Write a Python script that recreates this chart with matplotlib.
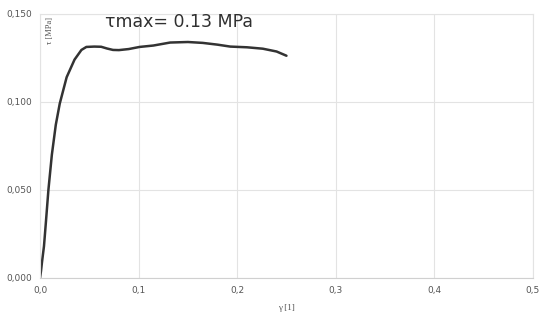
import matplotlib.pyplot as plt
from matplotlib.ticker import FuncFormatter

# shear strain / shear stress
gamma = [0.0, 0.001, 0.002, 0.004, 0.006, 0.0085, 0.012, 0.016, 0.020, 0.027,
         0.035, 0.042, 0.047, 0.055, 0.062, 0.068, 0.074, 0.080, 0.090, 0.101,
         0.115, 0.132, 0.150, 0.165, 0.180, 0.193, 0.210, 0.226, 0.240, 0.250]
tau = [0.0, 0.004, 0.009, 0.018, 0.032, 0.050, 0.070, 0.087, 0.099, 0.114,
       0.124, 0.1295, 0.1312, 0.1314, 0.1313, 0.1303, 0.1295, 0.1294, 0.130, 0.1312,
       0.132, 0.1337, 0.134, 0.1335, 0.1325, 0.1314, 0.131, 0.1302, 0.1286, 0.1262]

x_ticks = [0.0, 0.1, 0.2, 0.3, 0.4, 0.5]
y_ticks = [0.0, 0.05, 0.10, 0.15]

fig = plt.figure(figsize=(5.41, 3.22), dpi=100)
ax = fig.add_axes([0.074, 0.137, 0.911, 0.820])

ax.plot(gamma, tau, color='#333333', lw=1.8, solid_capstyle='round')

ax.set_xlim(0, 0.5)
ax.set_ylim(0, 0.15)
ax.set_xticks(x_ticks)
ax.set_yticks(y_ticks)
ax.xaxis.set_major_formatter(FuncFormatter(lambda v, p: f'{v:.1f}'.replace('.', ',')))
ax.yaxis.set_major_formatter(FuncFormatter(lambda v, p: f'{v:.3f}'.replace('.', ',')))
ax.tick_params(length=0, labelsize=6.5, labelcolor='#555555', pad=6)
ax.grid(True, color='#e3e3e3', lw=0.8)
ax.set_axisbelow(True)
for s in ax.spines.values():
    s.set_color('#e3e3e3')
    s.set_linewidth(0.8)
ax.spines['bottom'].set_color('#d0d0d0')

ax.text(0.066, 0.1425, 'τmax= 0.13 MPa', fontsize=12.5, color='#303030')
ax.text(0.0105, 0.148, 'τ [MPa]', rotation=90, fontsize=6, color='#555555',
        family='Liberation Serif', ha='center', va='top')
ax.set_xlabel('γ [1]', fontsize=6.5, color='#555555', family='Liberation Serif', labelpad=6)

fig.savefig('out.png', dpi=100)
